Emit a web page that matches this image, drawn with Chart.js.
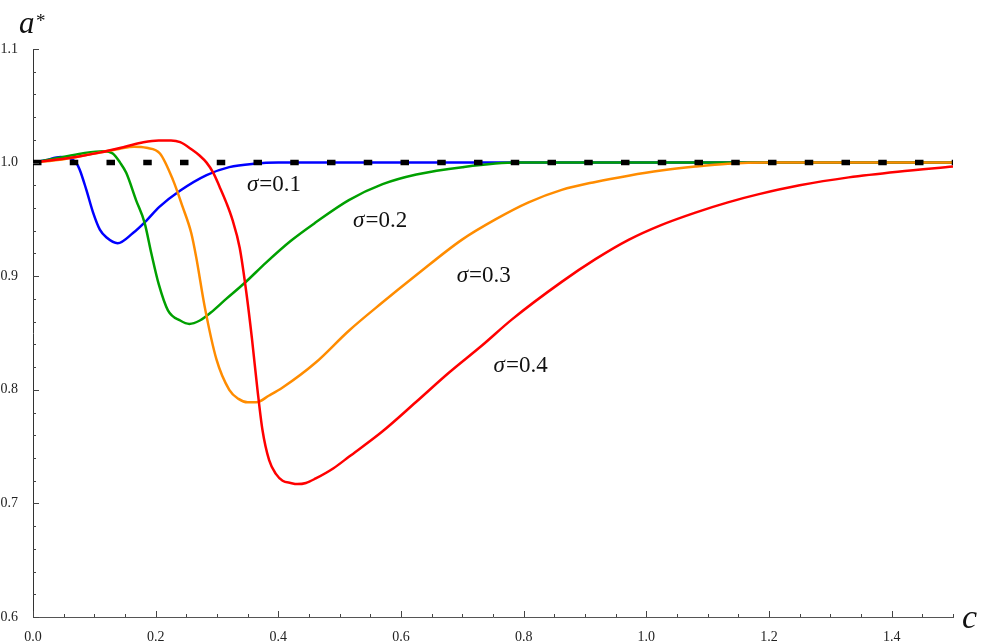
<!DOCTYPE html>
<html lang="en">
<head>
    <meta charset="UTF-8">
    <title>a* versus c</title>
    <script src="https://cdn.jsdelivr.net/npm/chart.js"></script>
    <style>
        body {
            margin: 0;
            background: #fff;
        }
        .chart-wrapper {
            width: 984px;
            height: 641px;
        }
    </style>
</head>
<body>
    <div class="chart-wrapper">
        <canvas id="aStarChart" width="984" height="641"></canvas>
    </div>

    <script>
        // values
        const xTicks = [0.0, 0.2, 0.4, 0.6, 0.8, 1.0, 1.2, 1.4];
        const yTicks = [0.6, 0.7, 0.8, 0.9, 1.0, 1.1];

        const blueX = [0, 0.02, 0.045, 0.06, 0.07, 0.076, 0.087, 0.098, 0.109, 0.12, 0.138, 0.163, 0.185, 0.206, 0.239, 0.283, 0.32, 0.36, 0.4, 0.5, 0.8, 1.5];
        const blueY = [1.0, 1.002, 1.005, 1.004, 1.0, 0.994, 0.976, 0.956, 0.941, 0.934, 0.929, 0.938, 0.949, 0.961, 0.975, 0.989, 0.996, 0.999, 1.0, 1.0, 1.0, 1.0];

        const greenX = [0, 0.04, 0.08, 0.115, 0.13, 0.142, 0.152, 0.168, 0.182, 0.193, 0.205, 0.22, 0.24, 0.255, 0.272, 0.29, 0.315, 0.345, 0.38, 0.42, 0.46, 0.515, 0.57, 0.625, 0.7, 0.79, 1.5];
        const greenY = [1.0, 1.004, 1.008, 1.010, 1.008, 1.0, 0.991, 0.967, 0.947, 0.920, 0.893, 0.870, 0.861, 0.858, 0.861, 0.868, 0.880, 0.894, 0.912, 0.931, 0.947, 0.967, 0.981, 0.9895, 0.996, 1.0, 1.0];

        const orangeX = [0, 0.05, 0.1, 0.14, 0.165, 0.185, 0.207, 0.228, 0.244, 0.258, 0.266, 0.28, 0.299, 0.32, 0.335, 0.35, 0.364, 0.385, 0.407, 0.461, 0.515, 0.57, 0.625, 0.699, 0.754, 0.808, 0.862, 0.917, 0.971, 1.024, 1.08, 1.133, 1.2, 1.5];
        const orangeY = [1.0, 1.003, 1.008, 1.012, 1.014, 1.013, 1.008, 0.985, 0.961, 0.938, 0.917, 0.873, 0.827, 0.800, 0.792, 0.789, 0.789, 0.795, 0.802, 0.824, 0.852, 0.877, 0.901, 0.932, 0.950, 0.965, 0.976, 0.983, 0.9885, 0.993, 0.9965, 0.999, 1.0, 1.0];

        const redX = [0, 0.03, 0.07, 0.11, 0.15, 0.18, 0.205, 0.225, 0.24, 0.26, 0.272, 0.283, 0.294, 0.304, 0.315, 0.325, 0.337, 0.348, 0.357, 0.366, 0.374, 0.385, 0.396, 0.407, 0.42, 0.431, 0.445, 0.461, 0.49, 0.515, 0.569, 0.624, 0.678, 0.732, 0.781, 0.862, 0.917, 0.971, 1.024, 1.08, 1.133, 1.182, 1.25, 1.33, 1.41, 1.5];
        const redY = [1.0, 1.002, 1.005, 1.009, 1.014, 1.018, 1.0195, 1.0195, 1.018, 1.011, 1.006, 1.0, 0.991, 0.979, 0.965, 0.950, 0.925, 0.885, 0.845, 0.800, 0.765, 0.738, 0.726, 0.720, 0.718, 0.717, 0.718, 0.722, 0.731, 0.741, 0.763, 0.789, 0.815, 0.839, 0.862, 0.895, 0.915, 0.932, 0.945, 0.956, 0.965, 0.972, 0.980, 0.987, 0.992, 0.9965];

        const refX = [0, 1.5];
        const refY = [1.0, 1.0];

        const curveLabels = ['0.1', '0.2', '0.3', '0.4'];
        const labelX = [0.393, 0.566, 0.735, 0.795];
        const labelY = [0.980, 0.949, 0.900, 0.821];

        const serif = '"Liberation Serif", "DejaVu Serif", serif';

        function pts(xs, ys) {
            return xs.map((x, i) => ({ x: x, y: ys[i] }));
        }

        function curve(label, xs, ys, color) {
            return {
                label: label,
                data: pts(xs, ys),
                borderColor: color,
                borderWidth: 2.5,
                pointRadius: 0,
                cubicInterpolationMode: 'monotone',
                fill: false
            };
        }

        // inside ticks, curve labels and axis titles
        const extras = {
            id: 'extras',
            afterDraw(chart) {
                const ctx = chart.ctx;
                const xs = chart.scales.x;
                const ys = chart.scales.y;
                const area = chart.chartArea;

                ctx.save();
                ctx.strokeStyle = '#444';
                ctx.lineWidth = 1;
                ctx.beginPath();
                for (let i = 0; i <= 30; i++) {
                    const px = Math.round(xs.getPixelForValue(i * 0.05)) + 0.5;
                    const len = i % 4 === 0 ? 6 : 3;
                    ctx.moveTo(px, area.bottom);
                    ctx.lineTo(px, area.bottom - len);
                }
                for (let i = 0; i <= 25; i++) {
                    const py = Math.round(ys.getPixelForValue(0.6 + i * 0.02)) + 0.5;
                    const len = i % 5 === 0 ? 6 : 3;
                    ctx.moveTo(area.left, py);
                    ctx.lineTo(area.left + len, py);
                }
                ctx.stroke();

                // sigma labels: italic sigma, upright "=0.x"
                ctx.fillStyle = '#111';
                ctx.textBaseline = 'middle';
                ctx.textAlign = 'left';
                curveLabels.forEach((t, i) => {
                    const sig = '\u03c3';
                    const rest = '=' + t;
                    ctx.font = 'italic 23px ' + serif;
                    const w1 = ctx.measureText(sig).width + 1;
                    ctx.font = '23px ' + serif;
                    const w2 = ctx.measureText(rest).width;
                    const x0 = xs.getPixelForValue(labelX[i]) - (w1 + w2) / 2;
                    const y0 = ys.getPixelForValue(labelY[i]);
                    ctx.font = 'italic 23px ' + serif;
                    ctx.fillText(sig, x0, y0);
                    ctx.font = '23px ' + serif;
                    ctx.fillText(rest, x0 + w1, y0);
                });

                ctx.textBaseline = 'alphabetic';
                ctx.font = 'italic 31px ' + serif;
                ctx.fillText('a', 19, 33);
                ctx.font = '19px ' + serif;
                ctx.fillText('*', 36, 27);
                ctx.font = 'italic 34px ' + serif;
                ctx.fillText('c', 962, 628);
                ctx.restore();
            }
        };

        const ctx = document.getElementById('aStarChart').getContext('2d');
        new Chart(ctx, {
            type: 'line',
            data: {
                datasets: [
                    {
                        label: 'a* = 1',
                        data: pts(refX, refY),
                        borderColor: '#000',
                        borderWidth: 5.5,
                        borderDash: [8.5, 28.25],
                        borderCapStyle: 'butt',
                        pointRadius: 0,
                        fill: false
                    },
                    curve('sigma 0.4', redX, redY, '#ff0000'),
                    curve('sigma 0.3', orangeX, orangeY, '#ff8c00'),
                    curve('sigma 0.2', greenX, greenY, '#00a000'),
                    curve('sigma 0.1', blueX, blueY, '#0000ff')
                ]
            },
            options: {
                responsive: false,
                animation: false,
                devicePixelRatio: 1,
                layout: {
                    padding: { top: 49, right: 31, left: 0, bottom: 0 }
                },
                plugins: {
                    legend: { display: false },
                    tooltip: { enabled: false }
                },
                scales: {
                    x: {
                        type: 'linear',
                        min: 0,
                        max: 1.5,
                        afterBuildTicks: (s) => { s.ticks = xTicks.map(v => ({ value: v })); },
                        afterFit: (s) => { s.height = 24; },
                        grid: { display: false },
                        border: { display: true, color: '#555', width: 1 },
                        ticks: {
                            padding: 4,
                            maxRotation: 0,
                            autoSkip: false,
                            color: '#222',
                            font: { family: serif, size: 14 },
                            callback: (v) => Number(v).toFixed(1)
                        }
                    },
                    y: {
                        min: 0.6,
                        max: 1.1,
                        afterBuildTicks: (s) => { s.ticks = yTicks.map(v => ({ value: v })); },
                        afterFit: (s) => { s.width = 33; },
                        grid: { display: false },
                        border: { display: true, color: '#333', width: 1 },
                        ticks: {
                            padding: 7,
                            autoSkip: false,
                            color: '#222',
                            font: { family: serif, size: 14 },
                            callback: (v) => Number(v).toFixed(1)
                        }
                    }
                }
            },
            plugins: [extras]
        });
    </script>
</body>
</html>
